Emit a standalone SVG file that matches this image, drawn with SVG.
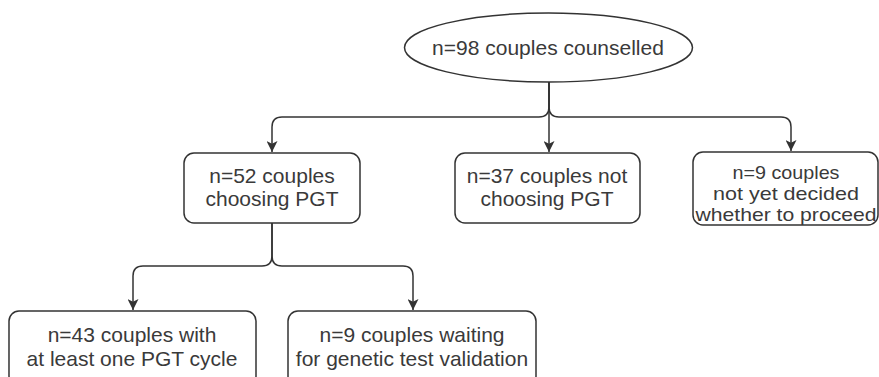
<svg xmlns="http://www.w3.org/2000/svg" width="879" height="377" viewBox="0 0 879 377">
<defs>
<marker id="arr" viewBox="0 0 10 10" refX="10" refY="5" markerWidth="11" markerHeight="11" markerUnits="userSpaceOnUse" orient="auto">
<path d="M0,0 L10,5 L0,10 L2.5,5 Z" fill="#333"/>
</marker>
<style>
.box{fill:#fff;stroke:#333;stroke-width:1.5}
.t{font-family:"Liberation Sans",Arial,sans-serif;font-size:21px;fill:#3a3a3a;text-anchor:middle}
.s{font-size:18.5px}
.e{fill:none;stroke:#333;stroke-width:1.5;marker-end:url(#arr)}
</style>
</defs>
<rect width="879" height="377" fill="#fff"/>
<g id="connectors">
<path class="e" d="M549,82 V107 Q549,117 539,117 H282 Q272,117 272,127 V152"/>
<path class="e" d="M549,82 V152"/>
<path class="e" d="M549,82 V107 Q549,117 559,117 H781 Q791,117 791,127 V151"/>
<path class="e" d="M272,223 V256 Q272,266 262,266 H143 Q133,266 133,276 V310"/>
<path class="e" d="M272,223 V256 Q272,266 282,266 H403 Q413,266 413,276 V310"/>
</g>
<g id="root">
<ellipse class="box" cx="548.5" cy="47.5" rx="144" ry="34.5"/>
<text class="t" x="548" y="55">n=98 couples counselled</text>
</g>
<g id="choosing">
<rect class="box" x="184" y="153" width="176" height="70" rx="10"/>
<text class="t" x="272" y="183">n=52 couples</text>
<text class="t" x="272" y="206">choosing PGT</text>
</g>
<g id="notchoosing">
<rect class="box" x="455" y="153" width="185" height="70" rx="10"/>
<text class="t" x="547" y="183">n=37 couples not</text>
<text class="t" x="547" y="206">choosing PGT</text>
</g>
<g id="undecided">
<rect class="box" x="693" y="152" width="185" height="73" rx="10"/>
<text class="t s" x="786" y="179" textLength="107" lengthAdjust="spacingAndGlyphs">n=9 couples</text>
<text class="t s" x="786" y="200" textLength="146" lengthAdjust="spacingAndGlyphs">not yet decided</text>
<text class="t s" x="786" y="221" textLength="181" lengthAdjust="spacingAndGlyphs">whether to proceed</text>
</g>
<g id="cycle">
<rect class="box" x="9" y="311" width="247" height="75" rx="10"/>
<text class="t" x="132" y="342">n=43 couples with</text>
<text class="t" x="132" y="366">at least one PGT cycle</text>
</g>
<g id="waiting">
<rect class="box" x="288" y="311" width="248" height="75" rx="10"/>
<text class="t" x="412" y="342">n=9 couples waiting</text>
<text class="t" x="412" y="366">for genetic test validation</text>
</g>
</svg>
